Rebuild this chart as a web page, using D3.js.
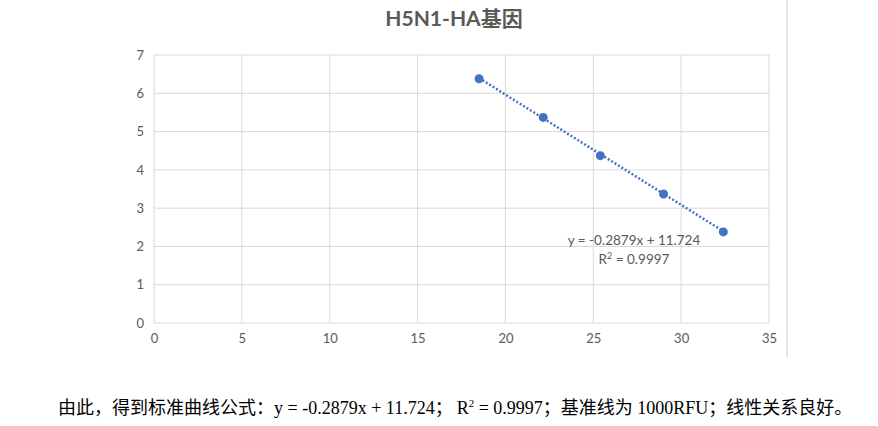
<!DOCTYPE html>
<html>
<head>
<meta charset="utf-8">
<script src="https://cdn.jsdelivr.net/npm/d3@7"></script>
<style>
body{margin:0;background:#fff;}
svg{display:block;}
</style>
</head>
<body>
<svg id="svg1" width="878" height="426"></svg>
<script>
// data
const ctValues = [18.5, 22.15, 25.4, 29.0, 32.4];
const logValues = [6.38, 5.37, 4.37, 3.37, 2.38];
const xTicks = [0, 5, 10, 15, 20, 25, 30, 35];
const yTicks = [0, 1, 2, 3, 4, 5, 6, 7];
const slope = -0.2879, intercept = 11.724;
const titleText = 'H5N1-HA基因';
const eqText = 'y = -0.2879x + 11.724';
const r2Text = ' = 0.9997';

const svg = d3.select('#svg1');
const margin = {top:55, left:154, right:109, bottom:103};
const width = 878, height = 426;
const innerWidth = width - margin.left - margin.right;
const innerHeight = height - margin.top - margin.bottom;
const grey = '#595959';
const gridColor = '#d9d9d9';
const blue = '#4472c4';

const x = d3.scaleLinear().domain([0, 35]).range([margin.left, margin.left + innerWidth]);
const y = d3.scaleLinear().domain([0, 7]).range([margin.top + innerHeight, margin.top]);

// title
svg.append('text')
  .attr('x', 454).attr('y', 26)
  .attr('text-anchor', 'middle')
  .style('font-family', 'Lato, "Noto Sans CJK SC", sans-serif')
  .style('font-size', '21px').style('font-weight', 'bold')
  .attr('fill', grey)
  .text(titleText);

// gridlines
svg.append('g').selectAll('line').data(yTicks).enter().append('line')
  .attr('x1', x(0)).attr('x2', x(35))
  .attr('y1', d => y(d)).attr('y2', d => y(d))
  .attr('stroke', gridColor).attr('stroke-width', 1);
svg.append('g').selectAll('line').data(xTicks).enter().append('line')
  .attr('x1', d => x(d)).attr('x2', d => x(d))
  .attr('y1', y(0)).attr('y2', y(7))
  .attr('stroke', gridColor).attr('stroke-width', 1);

// axes (labels only)
const yAxis = svg.append('g')
  .attr('transform', `translate(${margin.left},0)`)
  .call(d3.axisLeft(y).tickValues(yTicks).tickFormat(d3.format('d')).tickSize(0).tickPadding(10));
const xAxis = svg.append('g')
  .attr('transform', `translate(0,${y(0)})`)
  .call(d3.axisBottom(x).tickValues(xTicks).tickFormat(d3.format('d')).tickSize(0).tickPadding(11));
[xAxis, yAxis].forEach(g => {
  g.select('.domain').remove();
  g.selectAll('text')
    .attr('fill', grey)
    .style('font-family', 'Lato, "Open Sans", sans-serif')
    .style('font-size', '13px');
});

// trendline
const xMin = d3.min(ctValues), xMax = d3.max(ctValues);
svg.append('line')
  .attr('x1', x(xMin)).attr('y1', y(slope * xMin + intercept))
  .attr('x2', x(xMax)).attr('y2', y(slope * xMax + intercept))
  .attr('stroke', blue).attr('stroke-width', 2.5)
  .attr('stroke-dasharray', '2,2');

// points
svg.append('g').selectAll('circle').data(ctValues).enter().append('circle')
  .attr('cx', d => x(d))
  .attr('cy', (d, i) => y(logValues[i]))
  .attr('r', 4.5)
  .attr('fill', blue);

// equation label
const eq = svg.append('g')
  .style('font-family', 'Lato, "Open Sans", sans-serif')
  .style('font-size', '13.5px')
  .attr('fill', grey);
eq.append('text').attr('x', 634).attr('y', 245).attr('text-anchor', 'middle').text(eqText);
const r2 = eq.append('text').attr('x', 634).attr('y', 264).attr('text-anchor', 'middle');
r2.append('tspan').text('R');
r2.append('tspan').attr('dy', -5).style('font-size', '9px').text('2');
r2.append('tspan').attr('dy', 5).text(r2Text);

// right divider line
svg.append('line')
  .attr('x1', 787).attr('x2', 787).attr('y1', 0).attr('y2', 357)
  .attr('stroke', '#e3e3e3').attr('stroke-width', 2);

// caption under the chart
const cap = svg.append('text')
  .attr('x', 58).attr('y', 414)
  .style('font-family', '"Liberation Serif", "Noto Sans CJK SC", serif')
  .style('font-size', '18px')
  .attr('fill', '#000');
cap.append('tspan').text('由此，得到标准曲线公式：y = -0.2879x + 11.724；');
cap.append('tspan').attr('dx', 4).text('R');
cap.append('tspan').attr('dy', -7).style('font-size', '11px').text('2');
cap.append('tspan').attr('dy', 7).text(' = 0.9997；基准线为 1000RFU；线性关系良好。');
</script>
</body>
</html>
